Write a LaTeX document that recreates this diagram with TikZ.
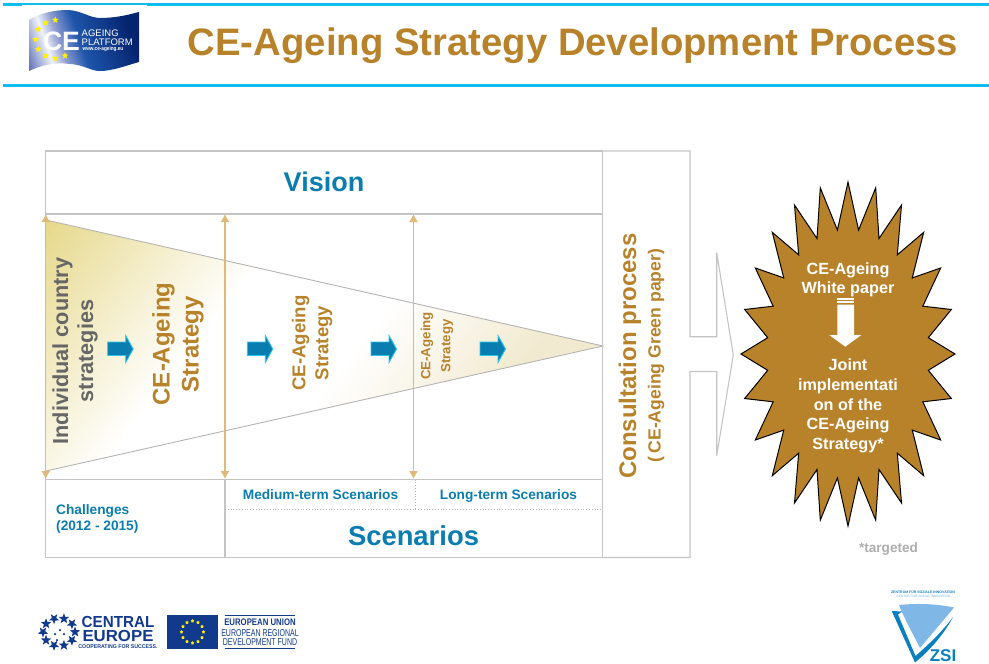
\documentclass[tikz,border=0pt]{standalone}
\usepackage{fontspec}
\setmainfont{Liberation Sans}
\usetikzlibrary{arrows.meta,shapes.geometric}
\definecolor{ruleCyan}{HTML}{10BDF0}
\definecolor{titleGold}{HTML}{B8822A}
\definecolor{frameGrey}{HTML}{C4C4C4}
\definecolor{edgeGrey}{HTML}{B4B4B4}
\definecolor{spanTan}{HTML}{E0B878}
\definecolor{textBlue}{HTML}{0A7DB0}
\definecolor{arrowCyan}{HTML}{2EC4E8}
\definecolor{darkGrey}{HTML}{666666}
\definecolor{logoNavy}{HTML}{123A8C}
\definecolor{fanBlue}{HTML}{7FB8E6}
\definecolor{zsiBlue}{HTML}{0A7FC0}
\definecolor{fadeGold}{HTML}{E6D88A}
\definecolor{fadePale}{HTML}{F2EAD0}
\definecolor{flagEdge}{HTML}{5A6BB5}
\definecolor{flagGlow}{HTML}{F0F2FA}
\definecolor{flagLight}{HTML}{8C9BD0}
\definecolor{flagMid}{HTML}{1E55AB}
\definecolor{flagDark}{HTML}{05236E}
\pgfdeclareverticalshading{ageFade}{100bp}{color(0bp)=(fadeGold); color(14.9bp)=(fadeGold); color(38bp)=(white); color(53bp)=(white); color(69.7bp)=(fadePale); color(100bp)=(fadePale)}
\pgfdeclarehorizontalshading{flagFade}{100bp}{color(0bp)=(flagEdge); color(18bp)=(flagEdge); color(31bp)=(flagGlow); color(38bp)=(flagLight); color(48bp)=(flagMid); color(74bp)=(flagDark); color(100bp)=(flagDark)}
\newcommand{\fs}[2]{\fontsize{#1}{#2}\selectfont}
\tikzset{
  lbl/.style={draw=none,inner sep=0pt,align=center,font=\bfseries},
  squeeze/.style={transform shape,xscale=#1},
  framebox/.style={draw=frameGrey,line width=1.1pt},
  span/.style={draw=spanTan,line width=1.2pt,{Latex[length=8pt,width=9pt]}-{Latex[length=8pt,width=9pt]}},
  flowarrow/.style={fill=textBlue,draw=arrowCyan,line width=0.9pt,line join=miter}
}
\begin{document}
\begin{tikzpicture}[x=1pt,y=-1pt]
\useasboundingbox (0,0) rectangle (989,664);

\fill [ruleCyan] (3,3) rectangle (989,5.7);
\fill [white] (22,5) rectangle (147,6);
\fill [ruleCyan] (3,84.2) rectangle (989,86.8);
\path (573,55.5) node[lbl,anchor=base,text=titleGold,font=\bfseries\fs{38.3}{40}] (title) {CE-Ageing Strategy Development Process};

\shade [shading=flagFade,shading angle=19] (29,20) .. controls (40,13) and (55,10) .. (67,10) .. controls (80,10) and (90,18) .. (100,18) .. controls (115,18) and (128,15) .. (139,12) -- (139,62) .. controls (125,66) and (112,71) .. (100,71) .. controls (90,71) and (85,65) .. (70,64) .. controls (55,62) and (42,65) .. (29,71) -- cycle;
\foreach \x/\y [count=\n] in {45.7/22.7, 55.3/20, 38.3/29.3, 35.7/39.3, 38.3/49.3, 45.7/55.7, 55.3/58.3, 65/55.7}
  \node[star,star points=5,star point ratio=2.2,fill=yellow,inner sep=0pt,minimum size=7pt] (flagstar\n) at (\x,\y) {};
\path (61.5,50) node[lbl,anchor=base,text=white,font=\bfseries\fs{26.6}{27}] (flagce) {CE};
\path (81.5,36) node[lbl,anchor=base west,text=white,font=\fs{9.5}{9.5}] (flagageing) {AGEING};
\path (81.5,45.5) node[lbl,anchor=base west,text=white,font=\fs{9.5}{9.5}] (flagplatform) {PLATFORM};
\path (82.5,50.5) node[lbl,anchor=base west,text=white,squeeze=.85,font=\bfseries\fs{5.5}{6}] (flagweb) {www.ce-ageing.eu};

\shade [shading=ageFade,shading angle=-128] (46,220) -- (603,346) -- (46,471) -- cycle;
\draw [draw=edgeGrey,line width=0.9pt] (46,471) -- (603,346) -- (46,220);

\draw [framebox] (45.5,151) rectangle (602.5,557.5);
\draw [framebox] (602.5,151) -- (690,151) -- (690,336.7) -- (716.7,336.7) -- (716.7,252.7) -- (733.3,355) -- (716.7,455.7) -- (716.7,371.5) -- (690,371.5) -- (690,557.5) -- (602.5,557.5);
\draw [framebox] (45.5,214) -- (602.5,214);
\draw [framebox] (45.5,479.5) -- (602.5,479.5);
\draw [framebox] (225,479.5) -- (225,557.5);
\draw [draw=edgeGrey,dotted,line width=0.8pt] (225,509) -- (602.5,509);
\draw [draw=edgeGrey,dotted,line width=0.8pt] (415.7,479.5) -- (415.7,509);

\foreach \x/\name in {45.7/a, 225/b, 413.5/c}
{
	\coordinate (top\name) at (\x,214);
	\coordinate (bot\name) at (\x,479);
	\draw [span] (top\name) -- (bot\name);
}

\foreach \x in {107.7, 247.3, 371, 480}
{
	\draw [flowarrow] (\x,342) -- (\x+18,342) -- (\x+18,335.5) -- (\x+25.5,349) -- (\x+18,362.5) -- (\x+18,355.5) -- (\x,355.5) -- cycle;
}

\path (324,191.5) node[lbl,anchor=base,text=textBlue,font=\bfseries\fs{27}{30}] (vision) {Vision};
\path (413.5,545.5) node[lbl,anchor=base,text=textBlue,font=\bfseries\fs{27.4}{30}] (scenarios) {Scenarios};
\path (320.5,499) node[lbl,anchor=base,text=textBlue,font=\bfseries\fs{13.7}{16}] (medium) {Medium-term Scenarios};
\path (508.5,499) node[lbl,anchor=base,text=textBlue,font=\bfseries\fs{13.7}{16}] (long) {Long-term Scenarios};
\path (56,519) node[lbl,anchor=west,align=left,text=textBlue,font=\bfseries\fs{13.7}{16.5}] (challenges) {Challenges\\(2012 - 2015)};

\path (75,351) node[lbl,rotate=90,text=darkGrey,font=\bfseries\fs{21.7}{25}] (country) {Individual country\\strategies};
\path (178,344) node[lbl,rotate=90,text=titleGold,font=\bfseries\fs{24}{29}] (stratA) {CE-Ageing\\Strategy};
\path (312,343) node[lbl,rotate=90,text=titleGold,font=\bfseries\fs{18.6}{23}] (stratB) {CE-Ageing\\Strategy};
\path (437,346) node[lbl,rotate=90,text=titleGold,font=\bfseries\fs{13.3}{20}] (stratC) {CE-Ageing\\Strategy};

\path (630,356) node[lbl,rotate=90,text=titleGold,font=\bfseries\fs{24}{26}] (consult) {Consultation process};
\path (656,355.5) node[lbl,rotate=90,text=titleGold,font=\bfseries\fs{17.6}{19}] (green) {(\,CE-Ageing Green paper)};

\draw [fill=titleGold,draw=black,line width=1pt,miter limit=20] (848,182)
  \foreach \i in {0,...,23} { -- ({848+81*sin(\i*15+7.5)},{354-125*cos(\i*15+7.5)}) -- ({848+107*sin(\i*15+15)},{354-172*cos(\i*15+15)}) } -- cycle;
\fill [white] (837.3,298.3) rectangle (854,299.5);
\fill [white] (837.3,301) rectangle (854,302.5);
\fill [white] (837.3,304.5) -- (854,304.5) -- (854,335) -- (861.3,335) -- (845.3,346.7) -- (829.3,335) -- (837.3,335) -- cycle;
\path (848,280) node[lbl,text=white,font=\bfseries\fs{16.2}{18.5}] (white) {CE-Ageing\\White paper};
\path (848,406) node[lbl,text=white,font=\bfseries\fs{16.2}{19.6}] (joint) {Joint\\implementati\\on of the\\CE-Ageing\\Strategy*};
\path (888.5,552) node[lbl,anchor=base,text=black!32,font=\bfseries\fs{13.6}{15}] (targeted) {*targeted};

\foreach \a [count=\n] in {0,36,...,324}
  \node[star,star points=5,star point ratio=2.4,fill=logoNavy,inner sep=0pt,minimum size=11pt,rotate=\a] (ringstar\n) at ({59+16*cos(\a)},{632+14*sin(\a)}) {};
\foreach \x/\y [count=\n] in {55/634, 60/630, 64/634, 57/640}
  \node[circle,fill=logoNavy,inner sep=0pt,minimum size=2.5pt] (ringdot\n) at (\x,\y) {};
\path (118,627) node[lbl,anchor=base,text=logoNavy,squeeze=.95,font=\bfseries\fs{16}{16}] (central) {CENTRAL};
\path (118,641) node[lbl,anchor=base,text=logoNavy,squeeze=1.05,font=\bfseries\fs{16}{16}] (europe) {EUROPE};
\path (118,648.5) node[lbl,anchor=base,text=logoNavy,squeeze=.95,font=\bfseries\fs{5.5}{6}] (cooperating) {COOPERATING FOR SUCCESS.};

\fill [logoNavy] (167,615) rectangle (218,649);
\foreach \a [count=\n] in {0,30,...,330}
  \node[star,star points=5,fill=yellow,inner sep=0pt,minimum size=3.6pt] (eustar\n) at ({192.5+11*cos(\a)},{632+11*sin(\a)}) {};
\draw [logoNavy,line width=0.7pt] (224.5,615.3) -- (295,615.3);
\draw [logoNavy,line width=0.7pt] (224.5,648.3) -- (295,648.3);
\path (260,625.5) node[lbl,anchor=base,text=logoNavy,squeeze=.82,font=\bfseries\fs{9.5}{10}] (euunion) {EUROPEAN UNION};
\path (260,636.5) node[lbl,anchor=base,text=logoNavy,squeeze=.7,font=\fs{10}{10}] (euregional) {EUROPEAN REGIONAL};
\path (260,645.5) node[lbl,anchor=base,text=logoNavy,squeeze=.7,font=\fs{10}{10}] (eufund) {DEVELOPMENT FUND};

\path (923,593.5) node[lbl,anchor=base,text=zsiBlue,font=\bfseries\fs{3.5}{5}] (zsitop) {ZENTRUM FÜR SOZIALE INNOVATION};
\path (923.5,597.5) node[lbl,anchor=base,text=zsiBlue!60,font=\fs{3.2}{4}] (zsisub) {CENTRE FOR SOCIAL INNOVATION};
\fill [fanBlue] (899,605) .. controls (918,603) and (938,604) .. (954,607.5) .. controls (942,622) and (930,636) .. (920,648) .. controls (913,634) and (905,620) .. (899,605) -- cycle;
\fill [zsiBlue] (891.7,611) -- (902,611.5) -- (898,614.5) -- (915.5,656) .. controls (928,645) and (942,632) .. (953,617) .. controls (943,636) and (928,652) .. (915,662.5) -- cycle;
\path (943,661) node[lbl,anchor=base,text=zsiBlue,font=\bfseries\fs{17}{17}] (zsi) {ZSI};
\end{tikzpicture}
\end{document}
